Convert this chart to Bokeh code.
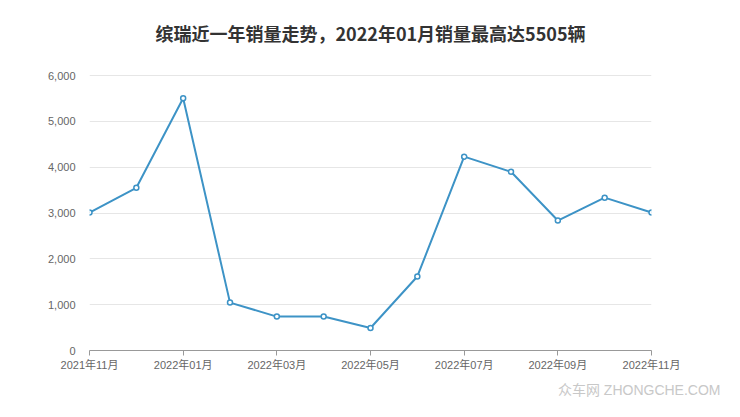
from bokeh.plotting import figure
from bokeh.models import Range1d, FixedTicker, NumeralTickFormatter, Title, Label, ColumnDataSource
from bokeh.embed import file_html
from bokeh.resources import INLINE

months = ["2021年11月", "2021年12月", "2022年01月", "2022年02月", "2022年03月", "2022年04月",
          "2022年05月", "2022年06月", "2022年07月", "2022年08月", "2022年09月", "2022年10月", "2022年11月"]
sales = [3010, 3550, 5505, 1045, 740, 740, 490, 1615, 4230, 3900, 2835, 3335, 3010]
y_ticks = [0, 1000, 2000, 3000, 4000, 5000, 6000]
title_text = "缤瑞近一年销量走势，2022年01月销量最高达5505辆"
watermark = "众车网 ZHONGCHE.COM"

idx = list(range(len(months)))
src = ColumnDataSource(dict(x=idx, y=sales, m=months))

font = "Noto Sans CJK SC"
tick_font = "Liberation Sans, Noto Sans CJK SC"

W, H = 740, 417
border_bottom = 67
frame_h = H - border_bottom          # frame spans from canvas top to x-axis
plot_top_px = 75                     # pixel row of the top gridline (6000)
y_top = y_ticks[-1]
y_max = y_top * frame_h / (frame_h - plot_top_px)

p = figure(width=W, height=H, output_backend="svg", toolbar_location=None,
           x_range=Range1d(0, len(months) - 1), y_range=Range1d(0, y_max),
           min_border_left=89, min_border_right=89, min_border_top=0, min_border_bottom=border_bottom)
p.outline_line_color = None
p.background_fill_color = "white"

p.line("x", "y", source=src, line_color="#3d93c6", line_width=2)
p.scatter("x", "y", source=src, size=5, fill_color="white", line_color="#3d93c6", line_width=1.5)

# axes
p.xaxis.ticker = FixedTicker(ticks=idx[::2])
p.xaxis.major_label_overrides = {i: months[i] for i in idx}
p.xaxis.axis_line_color = "#999999"
p.xaxis.major_tick_line_color = "#999999"
p.xaxis.major_tick_in = 0
p.xaxis.major_tick_out = 5
p.xaxis.minor_tick_line_color = None
p.xaxis.major_label_text_font = tick_font
p.xaxis.major_label_text_font_size = "11px"
p.xaxis.major_label_text_color = "#666666"
p.xaxis.major_label_standoff = 3

p.yaxis.ticker = FixedTicker(ticks=y_ticks)
p.yaxis.formatter = NumeralTickFormatter(format="0,0")
p.yaxis.axis_line_color = None
p.yaxis.major_tick_line_color = None
p.yaxis.minor_tick_line_color = None
p.yaxis.major_label_text_font = tick_font
p.yaxis.major_label_text_font_size = "11px"
p.yaxis.major_label_text_color = "#666666"
p.yaxis.major_label_standoff = 8

p.xgrid.grid_line_color = None
p.ygrid.ticker = FixedTicker(ticks=y_ticks)
p.ygrid.grid_line_color = "#e6e6e6"

# chart title, placed 32px below the canvas top, centred over the plot
title_px = 32
p.add_layout(Label(x=(len(months) - 1) / 2, y=y_max * (1 - title_px / frame_h), text=title_text,
                   text_align="center", text_baseline="middle", text_font=font,
                   text_font_size="18px", text_font_style="bold", text_color="#333333"))

wm = Title(text=watermark, align="right", text_font=tick_font, text_font_size="14px",
           text_font_style="normal", text_color="#c8c8c8", standoff=12, offset=-69)
p.add_layout(wm, "below")

open("out.html", "w").write(file_html(p, INLINE))
